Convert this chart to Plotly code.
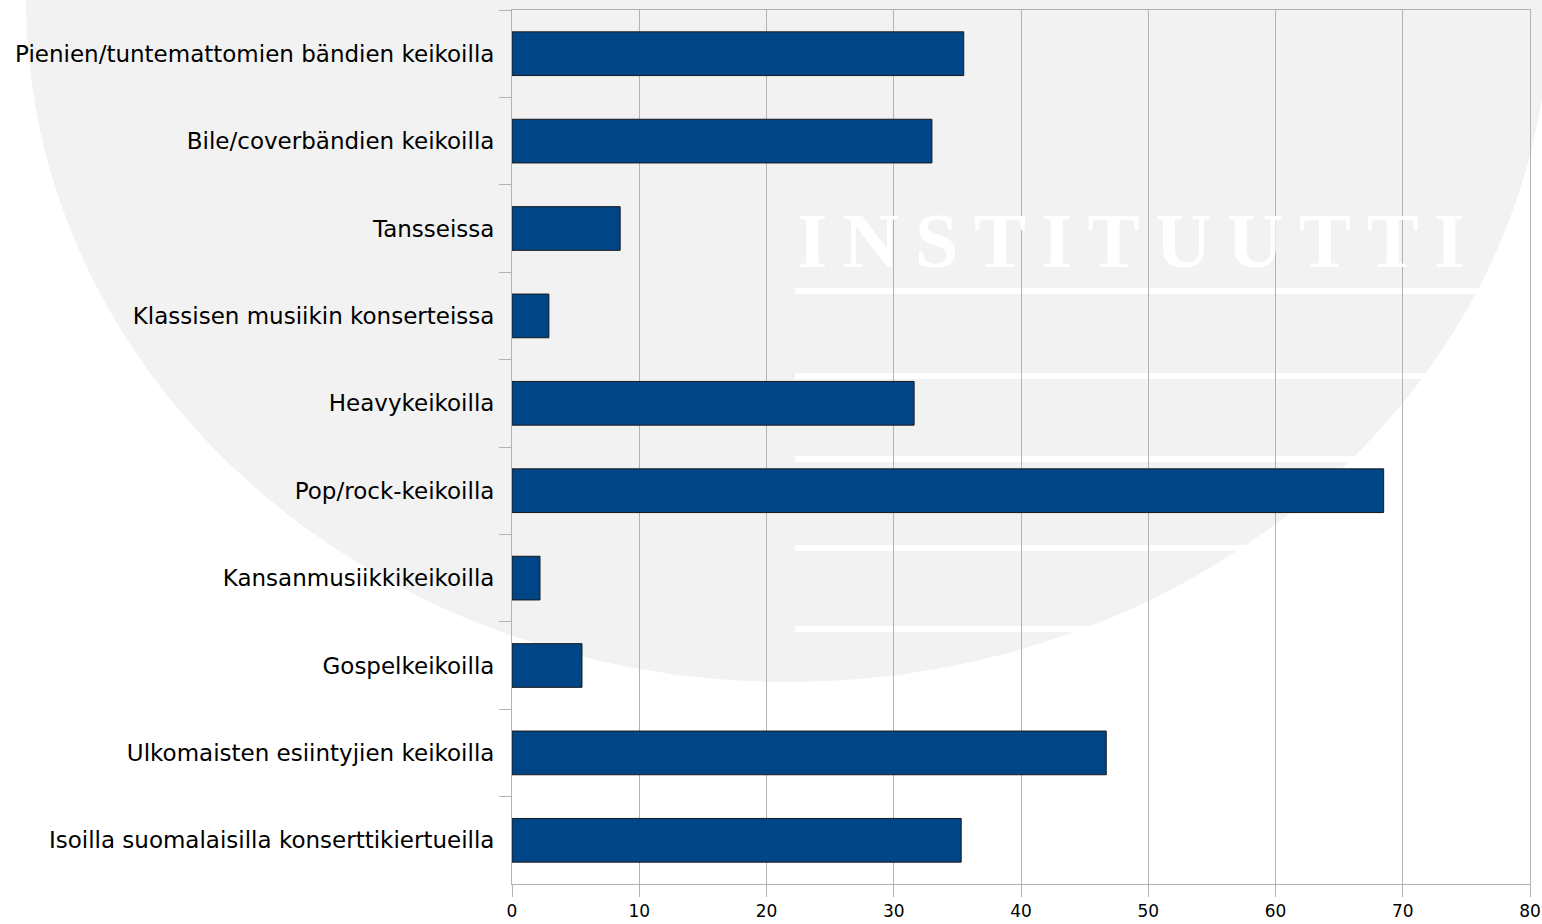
import plotly.graph_objects as go

# categories, top to bottom as in the chart
categories = [
    "Pienien/tuntemattomien bändien keikoilla",
    "Bile/coverbändien keikoilla",
    "Tansseissa",
    "Klassisen musiikin konserteissa",
    "Heavykeikoilla",
    "Pop/rock-keikoilla",
    "Kansanmusiikkikeikoilla",
    "Gospelkeikoilla",
    "Ulkomaisten esiintyjien keikoilla",
    "Isoilla suomalaisilla konserttikiertueilla",
]
values = [35.5, 33.0, 8.5, 2.9, 31.6, 68.5, 2.2, 5.5, 46.7, 35.3]
x_ticks = [0, 10, 20, 30, 40, 50, 60, 70, 80]

W, H = 1542, 924
ML, MR, MT, MB = 512, 12, 10, 40
PW, PH = W - ML - MR, H - MT - MB


def px(x):  # pixel -> paper x
    return (x - ML) / PW


def py(y):  # pixel -> paper y
    return (H - MB - y) / PH


fig = go.Figure(go.Bar(
    x=values,
    y=categories,
    orientation="h",
    marker=dict(color="#004586", line=dict(color="#1a1a1a", width=1)),
))

# faint watermark in the background
shapes = [dict(
    type="circle", xref="paper", yref="paper", layer="below",
    x0=px(26), x1=px(1550), y0=py(682), y1=py(-682),
    fillcolor="#f2f2f2", line=dict(width=0),
)]
for yy in [291, 376, 459, 548, 629]:
    shapes.append(dict(
        type="rect", xref="paper", yref="paper", layer="below",
        x0=px(795), x1=px(1542), y0=py(yy + 3), y1=py(yy - 3),
        fillcolor="white", line=dict(width=0),
    ))

fig.update_layout(
    width=W, height=H,
    margin=dict(l=ML, r=MR, t=MT, b=MB, autoexpand=False),
    paper_bgcolor="white",
    plot_bgcolor="rgba(0,0,0,0)",
    bargap=0.5,
    showlegend=False,
    shapes=shapes,
    annotations=[dict(
        text="<b>" + "\u2009".join("INSTITUUTTI") + "</b>",
        xref="paper", yref="paper", x=px(795), y=py(241),
        xanchor="left", yanchor="middle", showarrow=False,
        font=dict(family="Liberation Serif", size=78, color="white"),
    )],
    font=dict(family="DejaVu Sans", color="black"),
    xaxis=dict(
        range=[0, 80], tickvals=x_ticks, automargin=False,
        showgrid=True, gridcolor="#b3b3b3", gridwidth=1,
        showline=True, linecolor="#b3b3b3", linewidth=1, mirror=True,
        ticks="outside", ticklen=12, tickcolor="#b3b3b3",
        tickfont=dict(size=17, color="black"),
        zeroline=False,
    ),
    yaxis=dict(
        type="category", autorange="reversed", automargin=False,
        tickson="boundaries", ticks="outside", ticklen=12, tickcolor="#b3b3b3",
        showline=True, linecolor="#b3b3b3", linewidth=1, mirror=True,
        showgrid=False, ticklabelstandoff=12,
        tickfont=dict(size=23, color="black"),
    ),
)

fig.write_html(
    "out.html",
    config={"displayModeBar": False},
    post_script="document.body.style.margin='0';",
)
